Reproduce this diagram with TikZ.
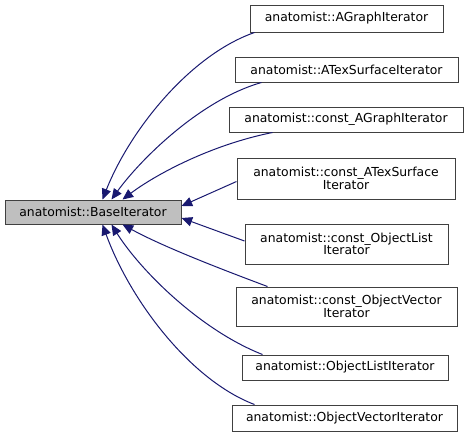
\documentclass[tikz,border=0pt]{standalone}
\usepackage{fontspec}
\setmainfont{DejaVu Sans}
\usetikzlibrary{arrows.meta}
\definecolor{edgeblue}{HTML}{191970}
\definecolor{basegray}{HTML}{BFBFBF}
\definecolor{boxline}{HTML}{404040}
\begin{document}
\begin{tikzpicture}[x=0.75pt,y=-0.75pt,
  box/.style={draw=boxline,line width=0.75pt,fill=white,inner sep=0pt,align=center,
    font=\fontsize{9.3}{9.4}\selectfont,text=black},
  edge/.style={draw=edgeblue,line width=0.75pt,
    -{Triangle[length=8pt,width=7pt,fill=edgeblue]}}]
\useasboundingbox (0,0) rectangle (469,437);
\node[box,fill=basegray,minimum width=132pt,minimum height=18pt] (base) at (93,212) {anatomist::BaseIterator};
\node[box,minimum width=144.75pt,minimum height=20.25pt] (n1) at (346.5,18.5) {anatomist::AGraphIterator};
\node[box,minimum width=167.25pt,minimum height=18.75pt] (n2) at (346.5,69.5) {anatomist::ATexSurfaceIterator};
\node[box,minimum width=175.5pt,minimum height=18.75pt] (n3) at (346,119.5) {anatomist::const\_AGraphIterator};
\node[box,minimum width=163.5pt,minimum height=30.75pt] (n4) at (346,178.5) {anatomist::const\_ATexSurface\\Iterator};
\node[box,minimum width=152.25pt,minimum height=30pt] (n5) at (346.5,244) {anatomist::const\_ObjectList\\Iterator};
\node[box,minimum width=165.75pt,minimum height=29.25pt] (n6) at (346.5,306.5) {anatomist::const\_ObjectVector\\Iterator};
\node[box,minimum width=154.5pt,minimum height=18.75pt] (n7) at (345,367.5) {anatomist::ObjectListIterator};
\node[box,minimum width=168.75pt,minimum height=19.5pt] (n8) at (344.5,418) {anatomist::ObjectVectorIterator};
\draw[edge] ([xshift=3.75pt]n1.south west) .. controls (190,55) and (130,130) .. ([xshift=73.5pt]base.north west);
\draw[edge] ([xshift=20.25pt]n2.south west) .. controls (200,100) and (140,160) .. ([xshift=80.25pt]base.north west);
\draw[edge] ([xshift=33pt]n3.south west) .. controls (210,145) and (155,175) .. ([xshift=88.5pt]base.north west);
\draw[edge] ([yshift=-2.25pt]n4.west) -- ([yshift=4.5pt]base.east);
\draw[edge] ([yshift=2.25pt]n5.west) -- ([yshift=-4.5pt]base.east);
\draw[edge] ([xshift=24pt]n6.north west) .. controls (210,265) and (160,245) .. ([xshift=88.5pt]base.south west);
\draw[edge] ([xshift=15.75pt]n7.north west) .. controls (200,330) and (140,270) .. ([xshift=80.25pt]base.south west);
\draw[edge] ([xshift=17.25pt]n8.north west) .. controls (190,380) and (130,300) .. ([xshift=73.5pt]base.south west);
\end{tikzpicture}
\end{document}
